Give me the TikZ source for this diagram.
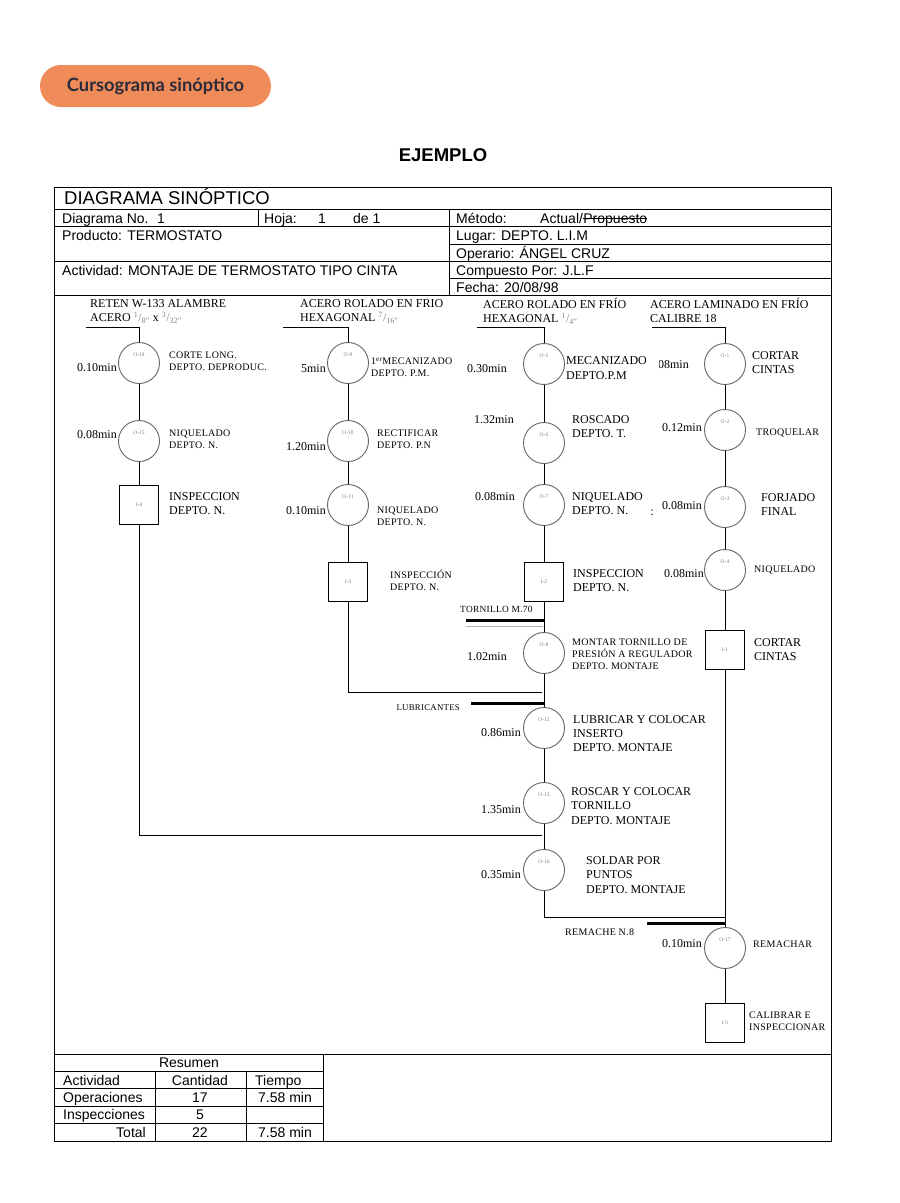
\documentclass[tikz,border=0pt]{standalone}
\usepackage{fontspec}
\setmainfont{Liberation Serif}
\newfontfamily\arialf{Liberation Sans}
\newfontfamily\badgef{Lato}
\newfontfamily\spacedf[LetterSpace=3]{Liberation Serif}
\definecolor{badgeor}{HTML}{EF8B58}
\definecolor{badgetx}{HTML}{2B2B3A}
\definecolor{circgray}{HTML}{666666}
\tikzset{
  ln/.style={line width=0.9pt, black},
  thickbar/.style={line width=3pt, black},
  hdf/.style={font=\arialf\fontsize{14}{16}\selectfont, inner sep=0pt},
  hd/.style={hdf, anchor=base west, yshift=-5pt},
  hdc/.style={hd, anchor=base},
  hde/.style={hd, anchor=base east},
  tmr/.style={font=\fontsize{12}{14.8}\selectfont, anchor=base east, inner sep=0pt, yshift=-4pt},
  tmb/.style={font=\fontsize{12}{14.8}\selectfont, anchor=north west, inner sep=0pt, align=left},
  smb/.style={font=\spacedf\fontsize{10}{12}\selectfont, anchor=north west, inner sep=0pt, align=left},
  sml/.style={font=\spacedf\fontsize{10}{12}\selectfont, anchor=base west, inner sep=0pt, yshift=-3.3pt},
  idf/.style={font=\fontsize{5.5}{6}\selectfont, text=gray, inner sep=0pt},
  op/.style={circle, draw=circgray, line width=0.9pt, minimum size=41pt, inner sep=0pt,
             label={[idf, yshift=8pt]center:#1}},
  insp/.style={rectangle, draw=black, line width=0.9pt, minimum size=39pt, inner sep=0pt,
             label={[idf]center:#1}},
  badge/.style={fill=badgeor, rounded corners=21pt, minimum width=231pt, minimum height=42pt,
             inner sep=0pt, text=badgetx, font=\badgef\bfseries\fontsize{18.3}{20}\selectfont}
}
\newcommand{\fr}[2]{{\color{gray}\textsuperscript{#1}/\textsubscript{#2''}}}
\begin{document}
\begin{tikzpicture}[x=1pt,y=-1pt]
\useasboundingbox (0,0) rectangle (900,1203);
\fill[white] (0,0) rectangle (900,1203);

% badge and title
\node[badge] (badge) at (155.5,86) {Cursograma sinóptico};
\node[font=\arialf\bfseries\fontsize{18.5}{20}\selectfont, inner sep=0pt] (ej) at (443,155) {EJEMPLO};

% frame and header rules
\draw[ln] (54,187) rectangle (831,1141);
\draw[ln] (54,209) -- (831,209);
\draw[ln] (54,226) -- (831,226);
\draw[ln] (449,244) -- (831,244);
\draw[ln] (54,261) -- (831,261);
\draw[ln] (449,278) -- (831,278);
\draw[ln] (54,295) -- (831,295);
\draw[ln] (258,209) -- (258,226);
\draw[ln] (449,209) -- (449,295);
\draw[ln] (54,1054) -- (831,1054);

% header texts
\node[hd, font=\arialf\fontsize{18.5}{20}\selectfont, yshift=-1.5pt] (h0) at (64,198) {DIAGRAMA SINÓPTICO};
\node[hd] (h1) at (62,218) {Diagrama No.};
\node[hd] (h2) at (157,218) {1};
\node[hd] (h3) at (264,218) {Hoja:};
\node[hd] (h4) at (318,218) {1};
\node[hd] (h5) at (353,218) {de 1};
\node[hd] (h6) at (456,218) {Método:};
\node[hd] (h7) at (540,218) {Actual/};
\node[hdf, anchor=base west] (prop) at (h7.base east) {Propuesto};
\draw[line width=0.8pt] ([yshift=4.2pt]prop.base west) -- ([yshift=4.2pt]prop.base east);
\node[hd] (h8) at (62,235) {Producto: TERMOSTATO};
\node[hd] (h9) at (456,235) {Lugar: DEPTO. L.I.M};
\node[hd] (h10) at (456,253) {Operario: ÁNGEL CRUZ};
\node[hd] (h11) at (62,270) {Actividad: MONTAJE DE TERMOSTATO TIPO CINTA};
\node[hd] (h12) at (456,270) {Compuesto Por: J.L.F};
\node[hd] (h13) at (456,287) {Fecha: 20/08/98};

% ---------- column A ----------
\node[tmb] (mA) at (90,299) {RETEN W-133 ALAMBRE\\ACERO \fr{1}{8} x \fr{3}{32}};
\coordinate (sA) at (86,327);
\node[op=O-14] (o14) at (139,363) {};
\node[op=O-15] (o15) at (139,441) {};
\node[insp=I-4] (i4) at (139,504.5) {};
\node[tmr] (tA1) at (117,367) {0.10min};
\node[smb] (dA1) at (169,351.7) {CORTE LONG.\\DEPTO. DEPRODUC.};
\node[tmr] (tA2) at (117,434) {0.08min};
\node[smb] (dA2) at (169,429.7) {NIQUELADO\\DEPTO. N.};
\node[tmb] (dA3) at (169,492) {INSPECCION\\DEPTO. N.};

% ---------- column B ----------
\node[tmb] (mB) at (300,299) {ACERO ROLADO EN FRIO\\HEXAGONAL \fr{7}{16}};
\coordinate (sB) at (283,327);
\node[op=O-9] (o9) at (348,363) {};
\node[op=O-10] (o10) at (348,441) {};
\node[op=O-11] (o11) at (348,505) {};
\node[insp=I-3] (i3) at (348,581.5) {};
\node[tmr] (tB1) at (326,368) {5min};
\node[smb] (dB1) at (371,357.7) {1\textsuperscript{er}MECANIZADO\\DEPTO. P.M.};
\node[tmr] (tB2) at (326,446) {1.20min};
\node[smb] (dB2) at (377,429.7) {RECTIFICAR\\DEPTO. P.N};
\node[tmr] (tB3) at (326,510) {0.10min};
\node[smb] (dB3) at (377,506.7) {NIQUELADO\\DEPTO. N.};
\node[smb] (dB4) at (390,570) {INSPECCIÓN\\DEPTO. N.};

% ---------- column C ----------
\node[tmb] (mC) at (483,297.5) {ACERO ROLADO EN FRÍO\\HEXAGONAL \fr{1}{4}};
\coordinate (sC) at (477,327);
\node[op=O-5] (o5) at (544,364) {};
\node[op=O-6] (o6) at (544,443) {};
\node[op=O-7] (o7) at (544,505) {};
\node[insp=I-2] (i2) at (544,581.5) {};
\node[op=O-8] (o8) at (544,653) {};
\node[op=O-12] (o12) at (544,728) {};
\node[op=O-13] (o13) at (544,803) {};
\node[op=O-16] (o16) at (544,870) {};
\node[tmr] (tC1) at (507,368) {0.30min};
\node[tmb, font=\fontsize{12}{15.5}\selectfont] (dC1) at (566,356) {MECANIZADO\\DEPTO.P.M};
\node[tmr] (tC2) at (514,419) {1.32min};
\node[tmb] (dC2) at (572,415) {ROSCADO\\DEPTO. T.};
\node[tmr] (tC3) at (515,496) {0.08min};
\node[tmb] (dC3) at (572,492) {NIQUELADO\\DEPTO. N.};
\node[tmr, anchor=base] (colon) at (652,511) {:};
\node[tmb] (dC4) at (573,569) {INSPECCION\\DEPTO. N.};
\node[sml, font=\spacedf\fontsize{9.4}{12}\selectfont] (torn) at (460,609) {TORNILLO M.70};
\node[tmr] (tC5) at (507,656) {1.02min};
\node[smb] (dC5) at (572,638.7) {MONTAR TORNILLO DE\\PRESIÓN A REGULADOR\\DEPTO. MONTAJE};
\node[sml, anchor=base east, font=\spacedf\fontsize{8.8}{12}\selectfont] (lub) at (460,707) {LUBRICANTES};
\node[tmr] (tC6) at (521,732) {0.86min};
\node[tmb, font=\fontsize{12}{14}\selectfont] (dC6) at (573,715) {LUBRICAR Y COLOCAR\\INSERTO\\DEPTO. MONTAJE};
\node[tmr] (tC7) at (521,809) {1.35min};
\node[tmb, font=\fontsize{12}{14.5}\selectfont] (dC7) at (571,787) {ROSCAR Y COLOCAR\\TORNILLO\\DEPTO. MONTAJE};
\node[tmr] (tC8) at (521,874) {0.35min};
\node[tmb, font=\fontsize{12}{14.5}\selectfont] (dC8) at (586,856) {SOLDAR POR\\PUNTOS\\DEPTO. MONTAJE};
\node[sml] (rem) at (565,932) {REMACHE N.8};

% ---------- column D ----------
\node[tmb] (mD) at (650,297.5) {ACERO LAMINADO EN FRÍO\\CALIBRE 18};
\coordinate (sD) at (652,327);
\node[op=O-1] (o1) at (725,364) {};
\node[op=O-2] (o2) at (725,430) {};
\node[op=O-3] (o3) at (725,507) {};
\node[op=O-4] (o4) at (725,570) {};
\node[insp=I-1] (i1) at (725,649.5) {};
\node[op=O-17] (o17) at (725,948) {};
\node[insp=I-5] (i5) at (725,1022.5) {};
\begin{scope}
  \clip (659,350) rectangle (700,380);
  \node[tmr] (tD1) at (689,364) {0.08min};
\end{scope}
\node[tmb] (dD1) at (752,351) {CORTAR\\CINTAS};
\node[tmr] (tD2) at (702,427) {0.12min};
\node[sml] (dD2) at (756,432) {TROQUELAR};
\node[tmr] (tD3) at (702,505) {0.08min};
\node[tmb] (dD3) at (761,493) {FORJADO\\FINAL};
\node[tmr] (tD4) at (704,573) {0.08min};
\node[sml] (dD4) at (754,569) {NIQUELADO};
\node[tmb] (dD5) at (754,638) {CORTAR\\CINTAS};
\node[tmr] (tD6) at (702,943) {0.10min};
\node[sml] (dD6) at (753,944) {REMACHAR};
\node[smb] (dD7) at (749,1011.7) {CALIBRAR E\\INSPECCIONAR};

% ---------- connectors ----------
\draw[ln] (sA) -| (o14);
\draw[ln] (o14) -- (o15);
\draw[ln] (o15) -- (i4);
\coordinate (jA) at (542,835);
\draw[ln] (i4) |- (jA);

\draw[ln] (sB) -| (o9);
\draw[ln] (o9) -- (o10);
\draw[ln] (o10) -- (o11);
\draw[ln] (o11) -- (i3);
\coordinate (jB) at (542,692);
\draw[ln] (i3) |- (jB);

\draw[ln] (sC) -| (o5);
\draw[ln] (o5) -- (o6);
\draw[ln] (o6) -- (o7);
\draw[ln] (o7) -- (i2);
\draw[ln] (i2) -- (o8);
\draw[ln] (o8) -- (o12);
\draw[ln] (o12) -- (o13);
\draw[ln] (o13) -- (o16);
\coordinate (jC) at (725,917);
\draw[ln] (o16) |- (jC);

\draw[ln] (sD) -| (o1);
\draw[ln] (o1) -- (o2);
\draw[ln] (o2) -- (o3);
\draw[ln] (o3) -- (o4);
\draw[ln] (o4) -- (i1);
\draw[ln] (i1) -- (o17);
\draw[ln] (o17) -- (i5);

% material bars
\coordinate (b1a) at (466,620); \coordinate (b1b) at (545,620);
\draw[thickbar] (b1a) -- (b1b);
\coordinate (b1c) at (466,626); \coordinate (b1d) at (543,626);
\draw[line width=0.8pt, gray!60] (b1c) -- (b1d);
\coordinate (b2a) at (471,703); \coordinate (b2b) at (545,703);
\draw[thickbar] (b2a) -- (b2b);
\coordinate (b3a) at (647,923); \coordinate (b3b) at (726,923);
\draw[thickbar] (b3a) -- (b3b);

% ---------- summary table ----------
\draw[ln] (323,1054) -- (323,1141);
\draw[ln] (54,1071) -- (323,1071);
\draw[ln] (54,1088.5) -- (323,1088.5);
\draw[ln] (54,1106) -- (323,1106);
\draw[ln] (54,1123) -- (323,1123);
\draw[ln] (155,1071) -- (155,1141);
\draw[ln] (246,1071) -- (246,1141);
\node[hdc] (r0) at (189,1062.5) {Resumen};
\node[hd] (r1) at (63,1080) {Actividad};
\node[hdc] (r2) at (200,1080) {Cantidad};
\node[hd] (r3) at (255,1080) {Tiempo};
\node[hd] (r4) at (63,1097) {Operaciones};
\node[hdc] (r5) at (200,1097) {17};
\node[hdc] (r6) at (285,1097) {7.58 min};
\node[hd] (r7) at (63,1114.5) {Inspecciones};
\node[hdc] (r8) at (200,1114.5) {5};
\node[hde] (r9) at (146,1132) {Total};
\node[hdc] (r10) at (200,1132) {22};
\node[hdc] (r11) at (285,1132) {7.58 min};
\end{tikzpicture}
\end{document}
